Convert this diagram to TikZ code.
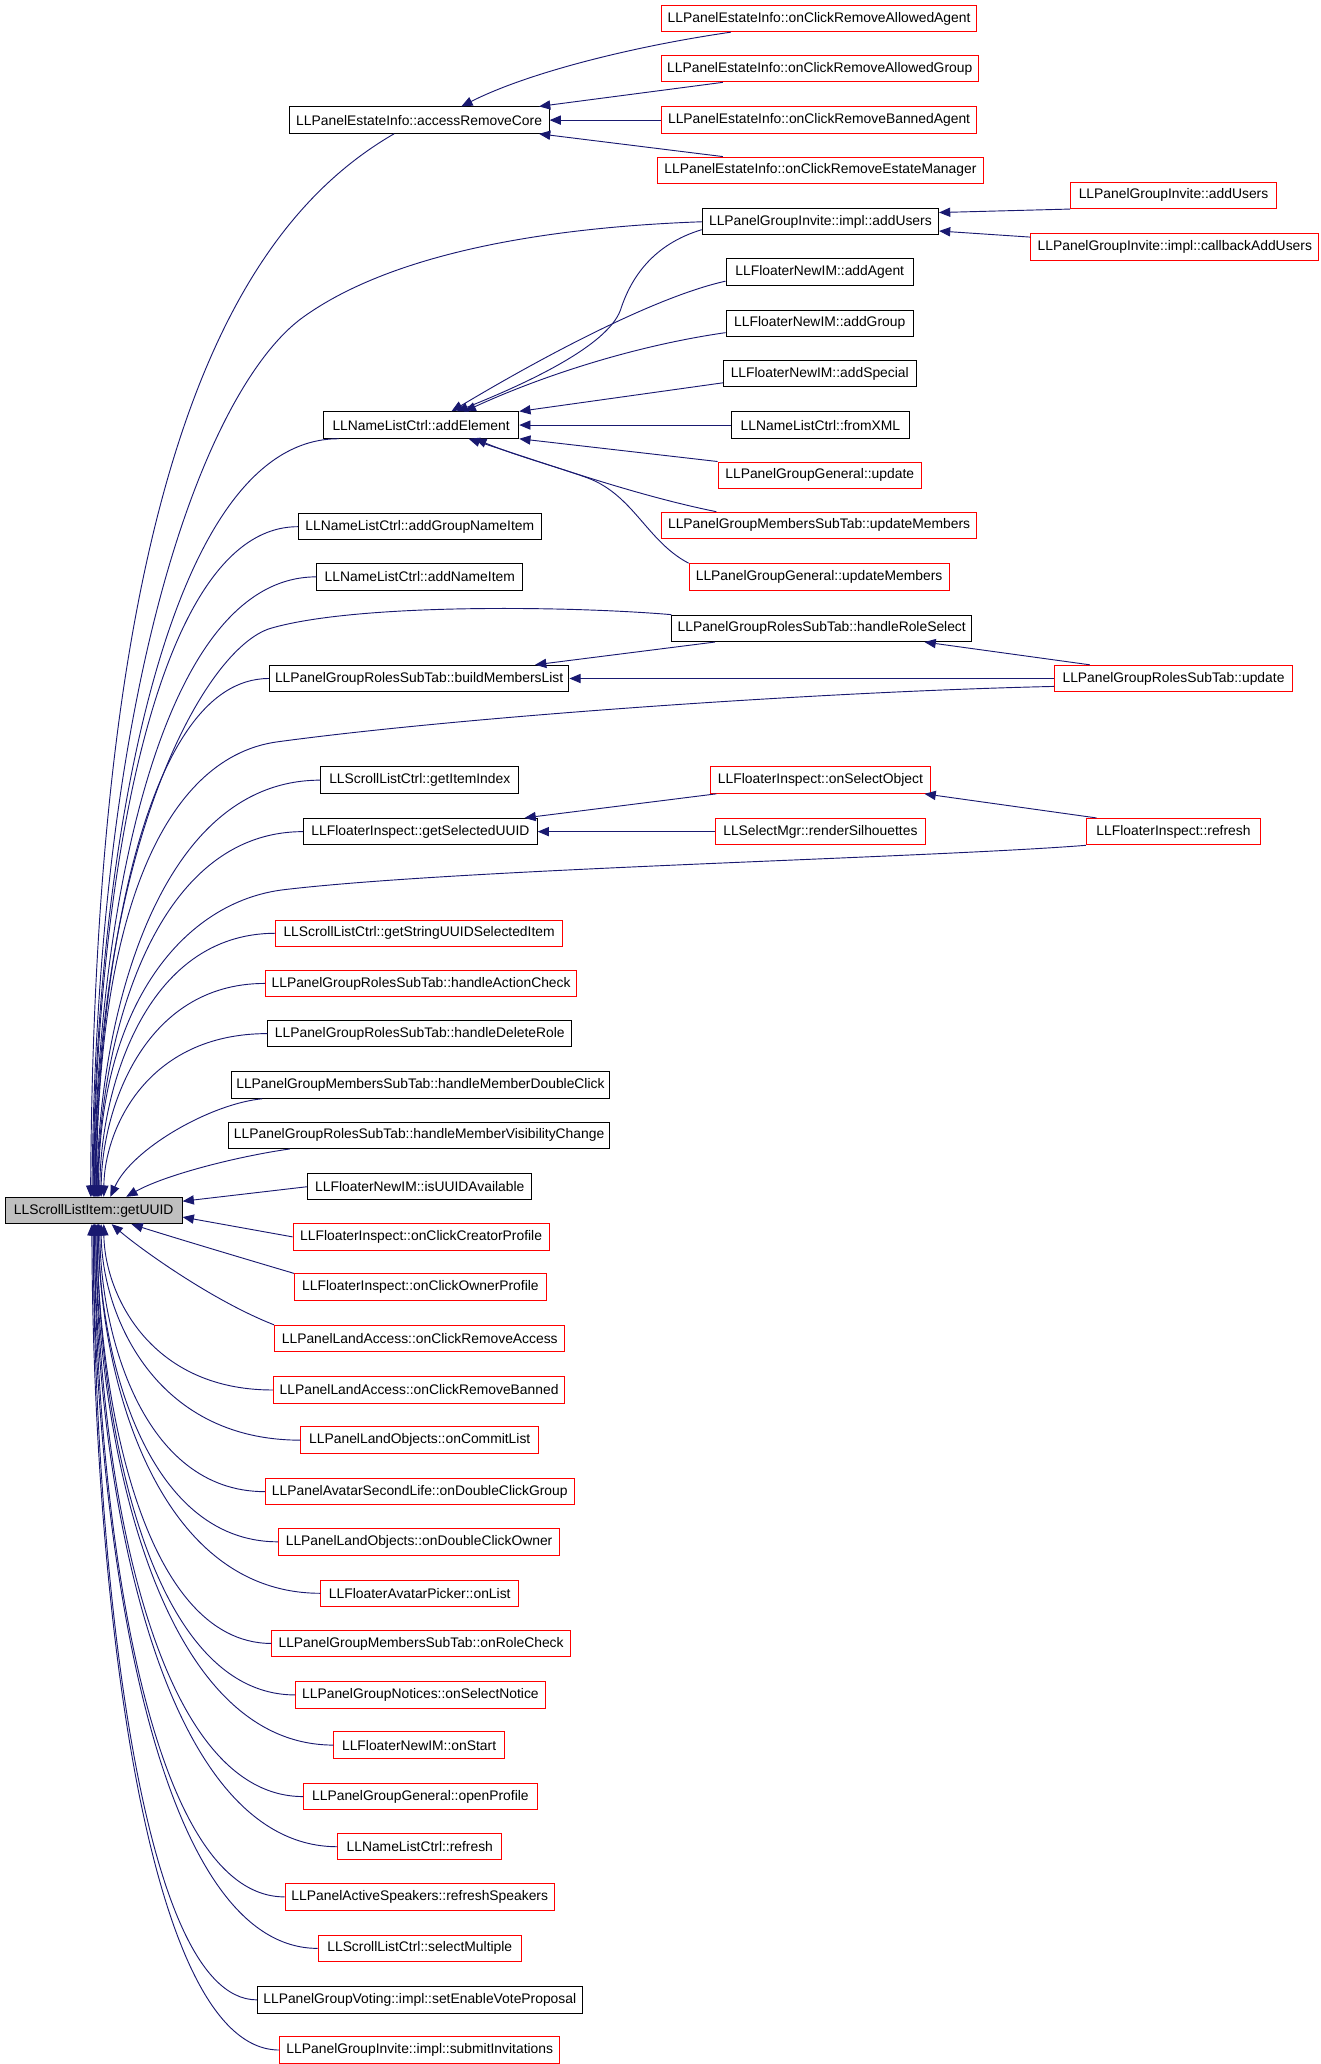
\documentclass[tikz,border=0pt]{standalone}
\usepackage{fontspec}
\setmainfont{Liberation Sans}
\usetikzlibrary{calc,arrows.meta}
\definecolor{callblue}{HTML}{191970}
\definecolor{rootgray}{HTML}{BFBFBF}
\tikzset{
  fn/.style={draw=black, line width=0.75pt, minimum height=20pt, inner xsep=2pt, inner ysep=0pt, font=\fontsize{10.5}{12}\selectfont},
  fnred/.style={fn, draw=red},
  fnroot/.style={fn, fill=rootgray},
  call/.style={draw=callblue, line width=0.7pt, -{Triangle[length=8.5pt,width=7pt]}}
}

\begin{document}
\begin{tikzpicture}[x=1pt,y=-1pt]
			%%%%% START %%%%%
			\useasboundingbox (0,0) rectangle (1000,1563.6);
			
			\node[fnroot, minimum width=134pt] (uuid) at (71,917) {LLScrollListItem::getUUID};
			
			% callers of getUUID
			\node[fn, minimum width=197pt] (remcore) at (317.5,91) {LLPanelEstateInfo::accessRemoveCore};
			\node[fn, minimum width=148pt] (addelem) at (319,322) {LLNameListCtrl::addElement};
			\node[fn, minimum width=184pt] (addgroupname) at (318,399) {LLNameListCtrl::addGroupNameItem};
			\node[fn, minimum width=156pt] (addname) at (318,437) {LLNameListCtrl::addNameItem};
			\node[fn, minimum width=227pt] (buildmembers) at (317.5,514) {LLPanelGroupRolesSubTab::buildMembersList};
			\node[fn, minimum width=150pt] (itemindex) at (318,591) {LLScrollListCtrl::getItemIndex};
			\node[fn, minimum width=177pt] (seluuid) at (318.5,630) {LLFloaterInspect::getSelectedUUID};
			\node[fnred, minimum width=217pt] (struuid) at (317.5,707) {LLScrollListCtrl::getStringUUIDSelectedItem};
			\node[fnred, minimum width=236pt] (actioncheck) at (319,745) {LLPanelGroupRolesSubTab::handleActionCheck};
			\node[fn, minimum width=230pt] (deleterole) at (318,783) {LLPanelGroupRolesSubTab::handleDeleteRole};
			\node[fn, minimum width=287pt] (dblclick) at (318.5,822) {LLPanelGroupMembersSubTab::handleMemberDoubleClick};
			\node[fn, minimum width=289pt] (visibility) at (317.5,860) {LLPanelGroupRolesSubTab::handleMemberVisibilityChange};
			\node[fn, minimum width=170pt] (uuidavail) at (318,899) {LLFloaterNewIM::isUUIDAvailable};
			\node[fnred, minimum width=194pt] (creator) at (319,937) {LLFloaterInspect::onClickCreatorProfile};
			\node[fnred, minimum width=191pt] (owner) at (318.5,975) {LLFloaterInspect::onClickOwnerProfile};
			\node[fnred, minimum width=220pt] (remaccess) at (318,1014) {LLPanelLandAccess::onClickRemoveAccess};
			\node[fnred, minimum width=221pt] (rembanned) at (317.5,1053) {LLPanelLandAccess::onClickRemoveBanned};
			\node[fnred, minimum width=180pt] (commitlist) at (318,1091) {LLPanelLandObjects::onCommitList};
			\node[fnred, minimum width=234pt] (dblgroup) at (318,1130) {LLPanelAvatarSecondLife::onDoubleClickGroup};
			\node[fnred, minimum width=213pt] (dblowner) at (317.5,1168) {LLPanelLandObjects::onDoubleClickOwner};
			\node[fnred, minimum width=150pt] (onlist) at (318,1207) {LLFloaterAvatarPicker::onList};
			\node[fnred, minimum width=226pt] (rolecheck) at (319,1245) {LLPanelGroupMembersSubTab::onRoleCheck};
			\node[fnred, minimum width=189pt] (selnotice) at (318.5,1284) {LLPanelGroupNotices::onSelectNotice};
			\node[fnred, minimum width=129pt] (onstart) at (317.5,1322) {LLFloaterNewIM::onStart};
			\node[fnred, minimum width=177pt] (openprofile) at (318.5,1361) {LLPanelGroupGeneral::openProfile};
			\node[fnred, minimum width=124pt] (nlrefresh) at (318,1399) {LLNameListCtrl::refresh};
			\node[fnred, minimum width=204pt] (speakers) at (318,1437) {LLPanelActiveSpeakers::refreshSpeakers};
			\node[fnred, minimum width=154pt] (selmulti) at (318,1476) {LLScrollListCtrl::selectMultiple};
			\node[fn, minimum width=246pt] (voteprop) at (318,1515) {LLPanelGroupVoting::impl::setEnableVoteProposal};
			\node[fnred, minimum width=212pt] (submitinv) at (318,1553) {LLPanelGroupInvite::impl::submitInvitations};
			
			% second level
			\node[fnred, minimum width=239pt] (remagent) at (620.5,14) {LLPanelEstateInfo::onClickRemoveAllowedAgent};
			\node[fnred, minimum width=240pt] (remgroup) at (621,52) {LLPanelEstateInfo::onClickRemoveAllowedGroup};
			\node[fnred, minimum width=239pt] (rembannedagent) at (620.5,91) {LLPanelEstateInfo::onClickRemoveBannedAgent};
			\node[fnred, minimum width=247pt] (remmanager) at (621.5,129) {LLPanelEstateInfo::onClickRemoveEstateManager};
			\node[fn, minimum width=179pt] (implusers) at (621.5,168) {LLPanelGroupInvite::impl::addUsers};
			\node[fn, minimum width=142pt] (addagent) at (621,206) {LLFloaterNewIM::addAgent};
			\node[fn, minimum width=142pt] (addgroup) at (621,245) {LLFloaterNewIM::addGroup};
			\node[fn, minimum width=146pt] (addspecial) at (621,283) {LLFloaterNewIM::addSpecial};
			\node[fn, minimum width=135pt] (fromxml) at (621.5,322) {LLNameListCtrl::fromXML};
			\node[fnred, minimum width=154pt] (genupdate) at (621,360) {LLPanelGroupGeneral::update};
			\node[fnred, minimum width=239pt] (memupdate) at (620.5,398) {LLPanelGroupMembersSubTab::updateMembers};
			\node[fnred, minimum width=197pt] (genmembers) at (620.5,437) {LLPanelGroupGeneral::updateMembers};
			\node[fn, minimum width=227pt] (roleselect) at (622.5,476) {LLPanelGroupRolesSubTab::handleRoleSelect};
			\node[fnred, minimum width=167pt] (selobject) at (621.5,591) {LLFloaterInspect::onSelectObject};
			\node[fnred, minimum width=159pt] (silhouettes) at (621.5,630) {LLSelectMgr::renderSilhouettes};
			
			% third level
			\node[fnred, minimum width=156pt] (inviteusers) at (889,148) {LLPanelGroupInvite::addUsers};
			\node[fnred, minimum width=218pt] (callbackusers) at (890,187) {LLPanelGroupInvite::impl::callbackAddUsers};
			\node[fnred, minimum width=180pt] (roleupdate) at (889,514) {LLPanelGroupRolesSubTab::update};
			\node[fnred, minimum width=132pt] (insprefresh) at (889,630) {LLFloaterInspect::refresh};
			
			% into getUUID from above
			\draw[call] ($(remcore.south)+(-19,0)$) .. controls (180,170) and (72,350) .. ($(uuid.north west)+(65,0)$);
			\draw[call] (implusers.west) .. controls (420,172) and (300,190) .. (230,240) .. controls (160,290) and (74,500) .. ($(uuid.north west)+(66,0)$);
			\draw[call] ($(addelem.south west)+(12,0)$) .. controls (118,332) and (71,677) .. ($(uuid.north west)+(67,0)$);
			\draw[call] (addgroupname.west) .. controls (110,399) and (71.5,704) .. ($(uuid.north west)+(67.5,0)$);
			\draw[call] (addname.west) .. controls (114,437) and (72,719) .. ($(uuid.north west)+(68,0)$);
			\draw[call] (roleselect.north west) .. controls (430,459) and (270,457) .. (205,476) .. controls (155,491) and (72.5,640) .. ($(uuid.north west)+(68.5,0)$);
			\draw[call] (buildmembers.west) .. controls (106,514) and (73,750) .. ($(uuid.north west)+(69,0)$);
			\draw[call] ($(roleupdate.west)+(0,6)$) .. controls (620,524) and (350,543) .. (210,562) .. controls (130,573) and (73.5,680) .. ($(uuid.north west)+(69.5,0)$);
			\draw[call] (itemindex.west) .. controls (116,591) and (74,781) .. ($(uuid.north west)+(70,0)$);
			\draw[call] (seluuid.west) .. controls (113,630) and (74.5,796) .. ($(uuid.north west)+(70.5,0)$);
			\draw[call] (insprefresh.south west) .. controls (700,650) and (350,658) .. (215,674) .. controls (140,683) and (75,760) .. ($(uuid.north west)+(71,0)$);
			\draw[call] (struuid.west) .. controls (109,707) and (76,827) .. ($(uuid.north west)+(72,0)$);
			\draw[call] (actioncheck.west) .. controls (108,745) and (77,842) .. ($(uuid.north west)+(73,0)$);
			\draw[call] (deleterole.west) .. controls (110,783) and (79,857) .. ($(uuid.north west)+(75,0)$);
			\draw[call] ($(dblclick.south west)+(24,0)$) .. controls (160,836) and (100,870) .. ($(uuid.north west)+(80,0)$);
			\draw[call] ($(visibility.south west)+(47,0)$) .. controls (180,876) and (125,890) .. ($(uuid.north west)+(92,0)$);
			\draw[call] (uuidavail.west) -- ($(uuid.east)+(0,-7)$);
			\draw[call] (creator.west) -- ($(uuid.east)+(0,5)$);
			
			% into getUUID from below
			\draw[call] (owner.north west) .. controls (180,952) and (130,937) .. ($(uuid.south west)+(96,0)$);
			\draw[call] (remaccess.north west) .. controls (160,985) and (105,945) .. ($(uuid.south west)+(81,0)$);
			\draw[call] (rembanned.west) .. controls (111,1053) and (79,977) .. ($(uuid.south west)+(75,0)$);
			\draw[call] (commitlist.west) .. controls (115,1091) and (77,993) .. ($(uuid.south west)+(73,0)$);
			\draw[call] (dblgroup.west) .. controls (107,1130) and (76,1008) .. ($(uuid.south west)+(72,0)$);
			\draw[call] (dblowner.west) .. controls (109,1168) and (75,1023) .. ($(uuid.south west)+(71,0)$);
			\draw[call] (onlist.west) .. controls (117,1207) and (75,1039) .. ($(uuid.south west)+(71,0)$);
			\draw[call] (rolecheck.west) .. controls (107,1245) and (74,1054) .. ($(uuid.south west)+(70,0)$);
			\draw[call] (selnotice.west) .. controls (111,1284) and (74,1070) .. ($(uuid.south west)+(70,0)$);
			\draw[call] (onstart.west) .. controls (118,1322) and (73,1085) .. ($(uuid.south west)+(69,0)$);
			\draw[call] (openprofile.west) .. controls (112,1361) and (73,1101) .. ($(uuid.south west)+(69,0)$);
			\draw[call] (nlrefresh.west) .. controls (118,1399) and (72,1116) .. ($(uuid.south west)+(68,0)$);
			\draw[call] (speakers.west) .. controls (108,1437) and (72,1131) .. ($(uuid.south west)+(68,0)$);
			\draw[call] (selmulti.west) .. controls (113,1476) and (71,1147) .. ($(uuid.south west)+(67,0)$);
			\draw[call] (voteprop.west) .. controls (102,1515) and (71,1162) .. ($(uuid.south west)+(67,0)$);
			\draw[call] (submitinv.west) .. controls (105,1553) and (70,1177) .. ($(uuid.south west)+(66,0)$);
			
			% estate info
			\draw[call] ($(remagent.south west)+(53,0)$) .. controls (480,35) and (400,55) .. ($(remcore.north)+(32,0)$);
			\draw[call] ($(remgroup.south west)+(47,0)$) -- ($(remcore.north east)+(-8,0)$);
			\draw[call] (rembannedagent.west) -- (remcore.east);
			\draw[call] ($(remmanager.north west)+(50,0)$) -- ($(remcore.south east)+(-8,0)$);
			
			% group invite
			\draw[call] (inviteusers.south west) -- ($(implusers.east)+(0,-7)$);
			\draw[call] ($(callbackusers.north west)+(0,3)$) -- ($(implusers.east)+(0,7)$);
			
			% name list
			\draw[call] ($(implusers.west)+(0,6)$) .. controls (495,185) and (478,210) .. (470,235) .. controls (460,262) and (400,290) .. ($(addelem.north)+(27,0)$);
			\draw[call] ($(addagent.west)+(0,7)$) .. controls (500,224) and (420,265) .. ($(addelem.north)+(23,0)$);
			\draw[call] ($(addgroup.west)+(0,7)$) .. controls (480,262) and (410,285) .. ($(addelem.north)+(33,0)$);
			\draw[call] ($(addspecial.west)+(0,7)$) -- (addelem.north east);
			\draw[call] (fromxml.west) -- (addelem.east);
			\draw[call] (genupdate.north west) -- (addelem.south east);
			\draw[call] ($(memupdate.north west)+(42,0)$) .. controls (480,375) and (410,350) .. ($(addelem.south)+(36,0)$);
			\draw[call] (genmembers.north west) .. controls (490,410) and (480,375) .. (445,362) .. controls (420,353) and (390,345) .. ($(addelem.south)+(41,0)$);
			
			% roles
			\draw[call] ($(roleselect.south west)+(33,0)$) -- ($(buildmembers.north east)+(-26,0)$);
			\draw[call] (roleupdate.west) -- (buildmembers.east);
			\draw[call] ($(roleupdate.north west)+(27,0)$) -- ($(roleselect.south east)+(-36,0)$);
			
			% inspect
			\draw[call] ($(selobject.south west)+(5,0)$) -- ($(seluuid.north east)+(-10,0)$);
			\draw[call] (silhouettes.west) -- (seluuid.east);
			\draw[call] ($(insprefresh.north west)+(8,0)$) -- ($(selobject.south east)+(-5,0)$);
			
			%%%%% END %%%%%
\end{tikzpicture}
\end{document}
